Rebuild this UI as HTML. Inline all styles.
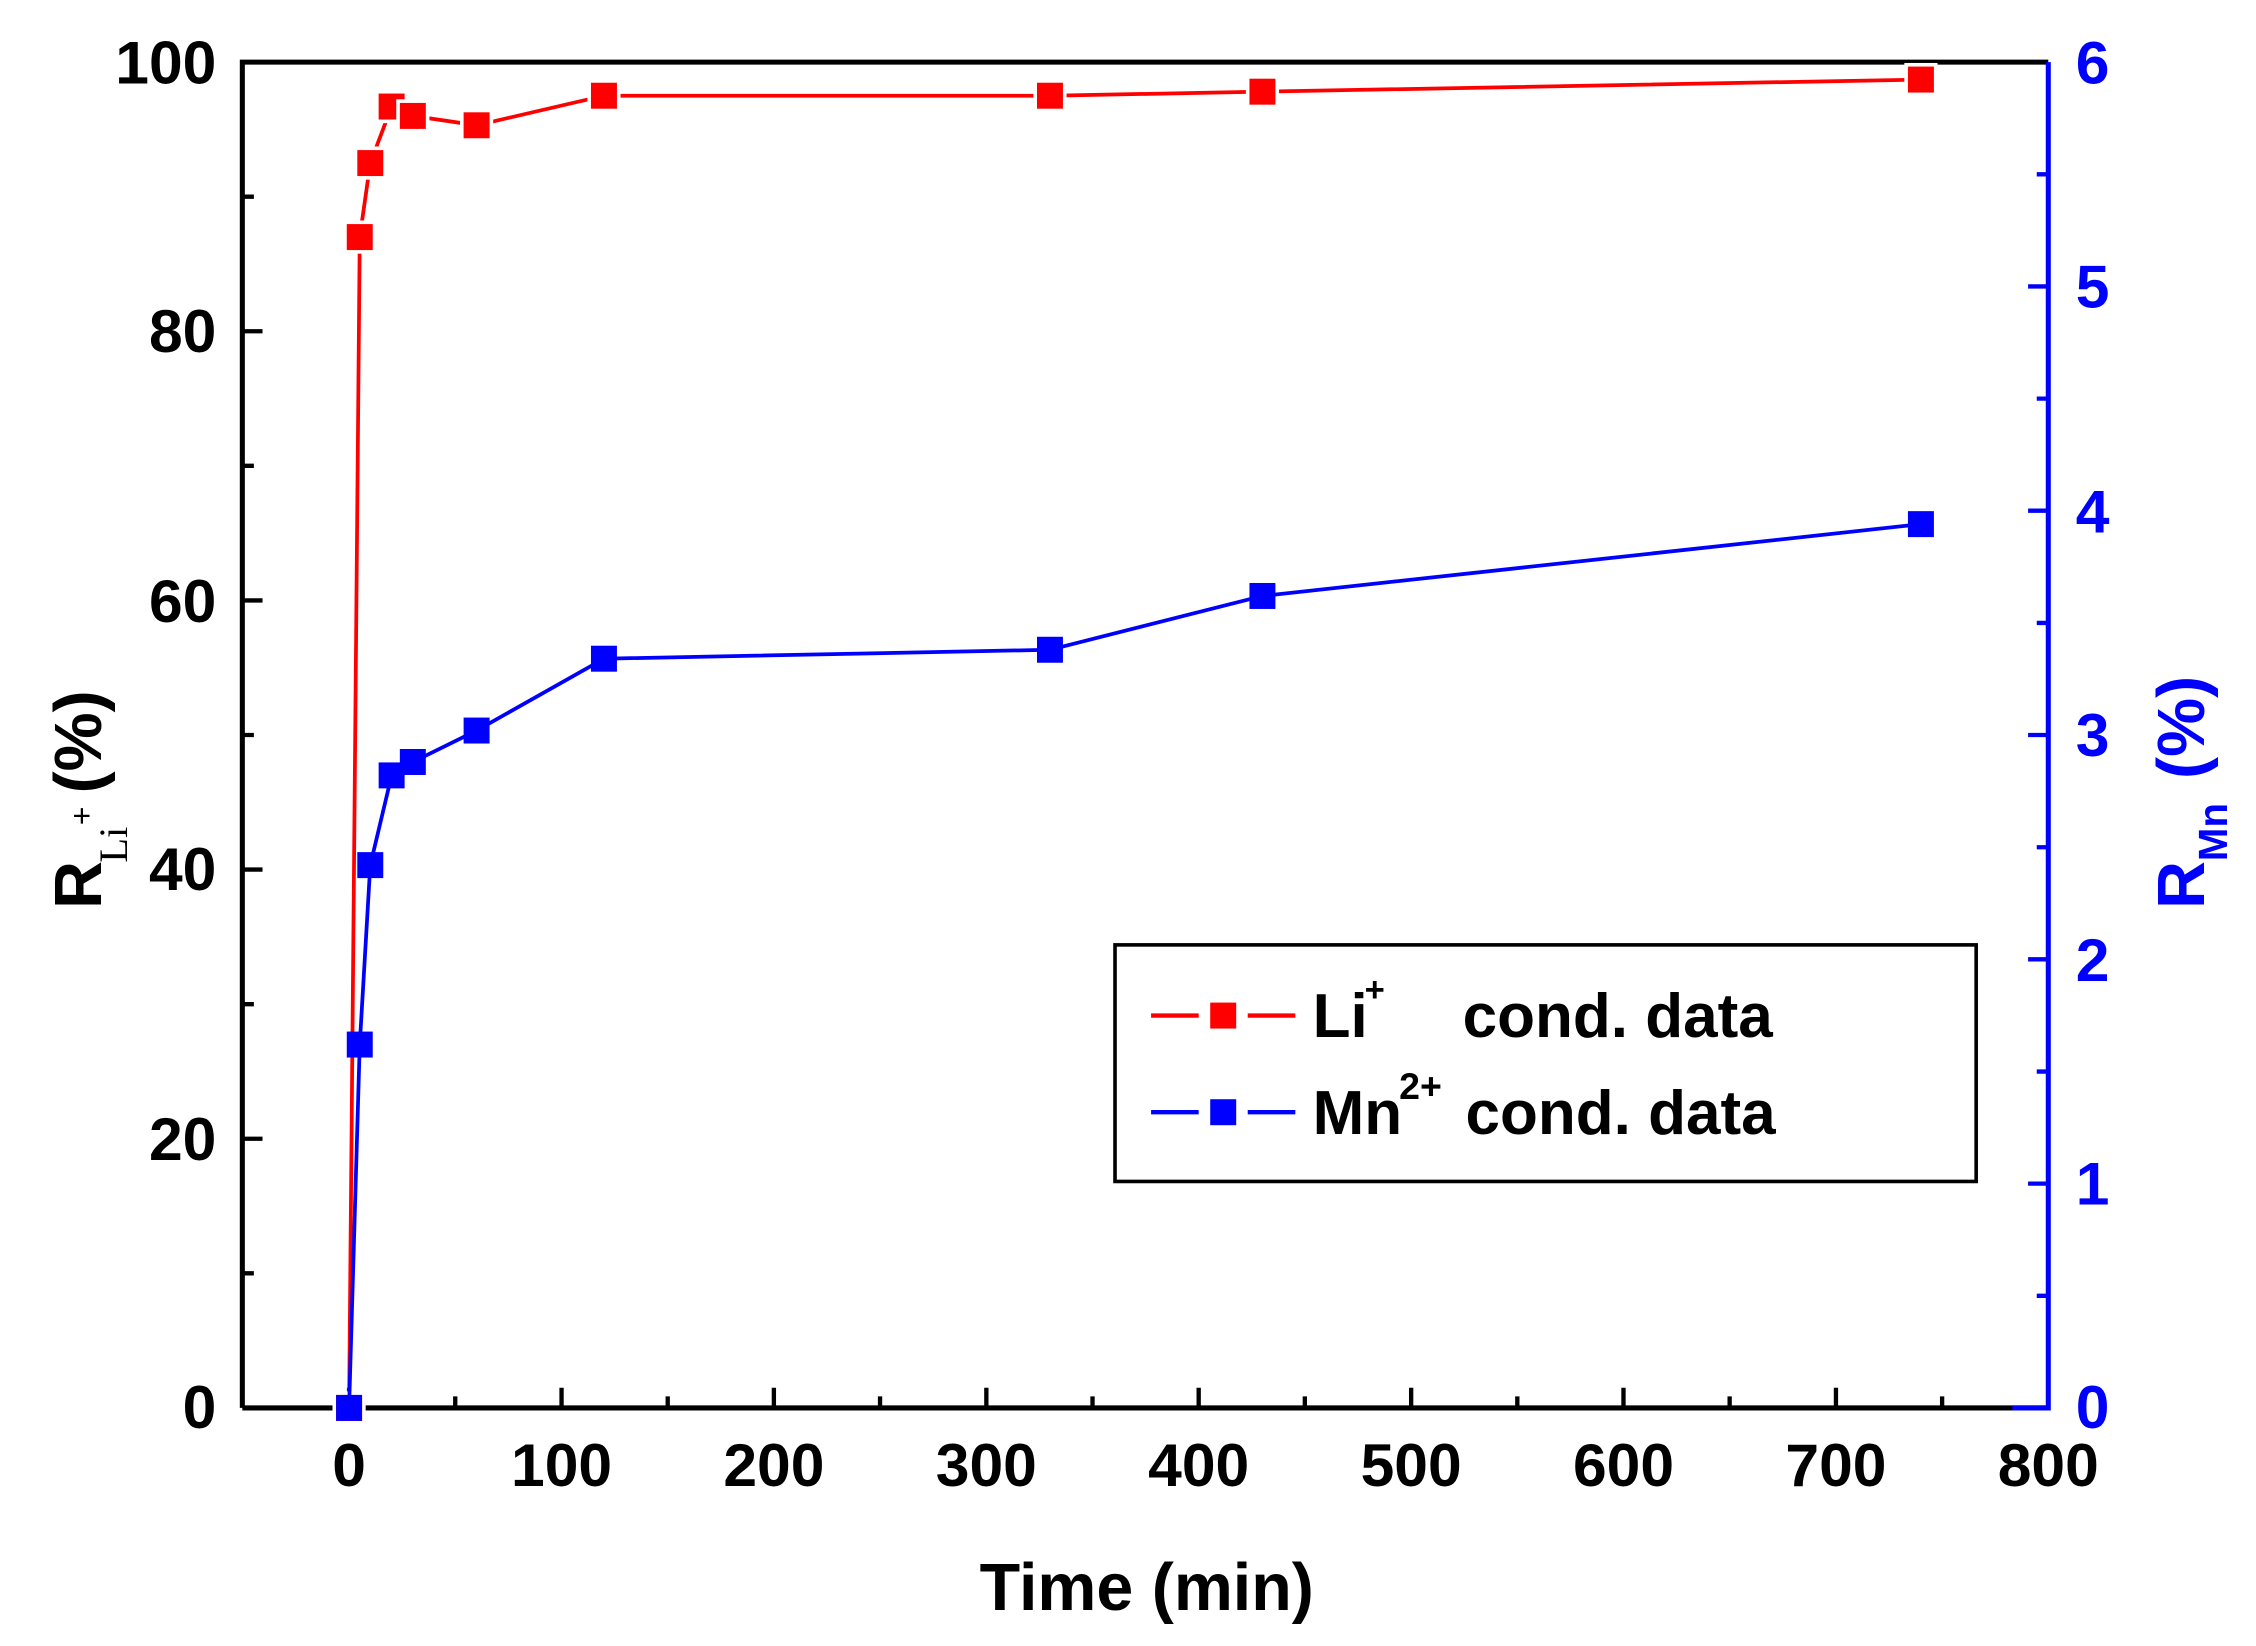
<!DOCTYPE html>
<html><head><meta charset="utf-8"><style>
html,body{margin:0;padding:0;background:#fff;}
svg{display:block;}
text{font-family:"Liberation Sans",Arial,sans-serif;font-weight:bold;}
</style></head><body>
<svg width="2256" height="1646" viewBox="0 0 1564 1141" xmlns="http://www.w3.org/2000/svg">
<rect width="1564" height="1141" fill="#fff"/>
<!-- axes -->
<path d="M168,976 V43 H1420" fill="none" stroke="#000" stroke-width="3.5"/>
<path d="M168,976 H1420" fill="none" stroke="#000" stroke-width="3.5"/>
<path d="M1420,43 V976 H1395" fill="none" stroke="#0000ff" stroke-width="3.5"/>
<!-- left ticks -->
<path d="M168,789.4h14M168,602.8h14M168,416.2h14M168,229.6h14M168,882.7h8M168,696.1h8M168,509.5h8M168,322.9h8M168,136.3h8" stroke="#000" stroke-width="3"/>
<!-- bottom ticks -->
<path d="M242,976v-14M389.3,976v-14M536.5,976v-14M683.8,976v-14M831,976v-14M978.3,976v-14M1125.5,976v-14M1272.8,976v-14M315.6,976v-8M462.9,976v-8M610.1,976v-8M757.4,976v-8M904.6,976v-8M1051.9,976v-8M1199.1,976v-8M1346.4,976v-8" stroke="#000" stroke-width="3"/>
<!-- right ticks -->
<path d="M1420,820.5h-14M1420,665h-14M1420,509.5h-14M1420,354h-14M1420,198.5h-14M1420,898.3h-8M1420,742.8h-8M1420,587.3h-8M1420,431.8h-8M1420,276.3h-8M1420,120.8h-8" stroke="#0000ff" stroke-width="3"/>
<!-- left labels -->
<g font-size="42" text-anchor="end" fill="#000">
<text x="150" y="990">0</text><text x="150" y="804">20</text><text x="150" y="617">40</text>
<text x="150" y="431">60</text><text x="150" y="244">80</text><text x="150" y="58">100</text>
</g>
<!-- right labels -->
<g font-size="42" fill="#0000ff">
<text x="1439" y="990">0</text><text x="1439" y="835">1</text><text x="1439" y="680">2</text>
<text x="1439" y="524">3</text><text x="1439" y="369">4</text><text x="1439" y="213">5</text><text x="1439" y="58">6</text>
</g>
<!-- bottom labels -->
<g font-size="42" text-anchor="middle" fill="#000">
<text x="242" y="1030">0</text><text x="389.3" y="1030">100</text><text x="536.5" y="1030">200</text>
<text x="683.8" y="1030">300</text><text x="831" y="1030">400</text><text x="978.3" y="1030">500</text>
<text x="1125.5" y="1030">600</text><text x="1272.8" y="1030">700</text><text x="1420" y="1030">800</text>
</g>
<text x="795" y="1116" font-size="46" text-anchor="middle">Time (min)</text>
<!-- left axis title -->
<g transform="translate(70,630) rotate(-90)">
<text x="0" y="0" font-size="46">R</text>
<text x="32" y="18" font-size="28" style="font-family:'Liberation Serif',serif;font-weight:normal">Li</text>
<text x="58" y="-6" font-size="22" style="font-weight:normal">+</text>
<text x="80" y="0" font-size="46">(%)</text>
</g>
<!-- right axis title -->
<g transform="translate(1528,630) rotate(-90)" fill="#0000ff">
<text x="0" y="0" font-size="46">R</text>
<text x="33" y="16" font-size="28">Mn</text>
<text x="90" y="0" font-size="46">(%)</text>
</g>
<!-- Li series -->
<polyline fill="none" stroke="#ff0000" stroke-width="2.6" points="242,976 249.4,164.3 256.7,113 271.5,73.8 286.2,80.3 330.4,86.8 418.7,66.3 727.9,66.3 875.2,63.5 1331.7,55.1"/>
<g fill="#ff0000" stroke="#fff" stroke-width="5" paint-order="stroke">
<rect x="233" y="967" width="18" height="18"/>
<rect x="240.4" y="155.3" width="18" height="18"/>
<rect x="247.7" y="104" width="18" height="18"/>
<rect x="262.5" y="64.8" width="18" height="18"/>
<rect x="277.2" y="71.3" width="18" height="18"/>
<rect x="321.4" y="77.8" width="18" height="18"/>
<rect x="409.7" y="57.3" width="18" height="18"/>
<rect x="718.9" y="57.3" width="18" height="18"/>
<rect x="866.2" y="54.5" width="18" height="18"/>
<rect x="1322.7" y="46.1" width="18" height="18"/>
</g>
<!-- Mn series -->
<polyline fill="none" stroke="#0000ff" stroke-width="2.6" points="242,976 249.4,724.1 256.7,599.7 271.5,537.5 286.2,528.2 330.4,506.4 418.7,456.6 727.9,450.4 875.2,413.1 1331.7,363.3"/>
<g fill="#0000ff">
<rect x="233" y="967" width="18" height="18"/>
<rect x="240.4" y="715.1" width="18" height="18"/>
<rect x="247.7" y="590.7" width="18" height="18"/>
<rect x="262.5" y="528.5" width="18" height="18"/>
<rect x="277.2" y="519.2" width="18" height="18"/>
<rect x="321.4" y="497.4" width="18" height="18"/>
<rect x="409.7" y="447.6" width="18" height="18"/>
<rect x="718.9" y="441.4" width="18" height="18"/>
<rect x="866.2" y="404.1" width="18" height="18"/>
<rect x="1322.7" y="354.3" width="18" height="18"/>
</g>
<!-- legend -->
<rect x="773" y="655" width="597" height="164" fill="#fff" stroke="#000" stroke-width="2.5"/>
<path d="M798,704h33M865,704h33" stroke="#ff0000" stroke-width="3"/>
<rect x="839" y="695" width="18" height="18" fill="#ff0000"/>
<path d="M798,771h33M865,771h33" stroke="#0000ff" stroke-width="3"/>
<rect x="839" y="762" width="18" height="18" fill="#0000ff"/>
<g font-size="43" fill="#000">
<text x="910" y="719">Li</text><text x="946" y="694" font-size="24">+</text>
<text x="1014" y="719">cond. data</text>
<text x="910" y="786">Mn</text><text x="970" y="762" font-size="26">2+</text>
<text x="1016" y="786">cond. data</text>
</g>
</svg>
</body></html>
